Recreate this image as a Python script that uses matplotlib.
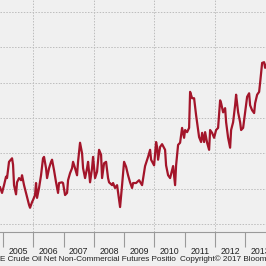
import matplotlib
matplotlib.use("Agg")
import matplotlib.pyplot as plt
import numpy as np

# net positions, thousand contracts
dates = [2004.901, 2004.967, 2005.033, 2005.099, 2005.132, 2005.198, 2005.298, 2005.331,
         2005.364, 2005.430, 2005.463, 2005.529, 2005.595, 2005.628, 2005.694, 2005.760,
         2005.793, 2005.860, 2005.893, 2005.959, 2005.992, 2006.058, 2006.091, 2006.124,
         2006.190, 2006.256, 2006.322, 2006.355, 2006.421, 2006.455, 2006.521, 2006.587,
         2006.620, 2006.686, 2006.752, 2006.818, 2006.851, 2006.950, 2006.983, 2007.050,
         2007.116, 2007.149, 2007.215, 2007.281, 2007.314, 2007.380, 2007.446, 2007.479,
         2007.545, 2007.612, 2007.645, 2007.711, 2007.777, 2007.810, 2007.876, 2007.942,
         2007.975, 2008.041, 2008.107, 2008.174, 2008.240, 2008.273, 2008.339, 2008.405,
         2008.471, 2008.504, 2008.603, 2008.636, 2008.702, 2008.769, 2008.802, 2008.868,
         2008.934, 2009.000, 2009.066, 2009.132, 2009.198, 2009.264, 2009.298, 2009.397,
         2009.496, 2009.595, 2009.694, 2009.793, 2009.860, 2009.893, 2009.992, 2010.058,
         2010.091, 2010.124, 2010.190, 2010.256, 2010.355, 2010.388, 2010.455, 2010.521,
         2010.620, 2010.686, 2010.719, 2010.785, 2010.851, 2010.917, 2010.983, 2011.017,
         2011.083, 2011.149, 2011.182, 2011.248, 2011.314, 2011.380, 2011.413, 2011.479,
         2011.545, 2011.579, 2011.645, 2011.678, 2011.744, 2011.810, 2011.843, 2011.909,
         2011.975, 2012.041, 2012.107, 2012.174, 2012.207, 2012.273, 2012.339, 2012.372,
         2012.438, 2012.504, 2012.537, 2012.603, 2012.669, 2012.702, 2012.769, 2012.835,
         2012.868, 2012.934, 2013.000, 2013.066, 2013.132, 2013.165, 2013.231, 2013.298,
         2013.331, 2013.397, 2013.463, 2013.496, 2013.562, 2013.628, 2013.661, 2013.694]
values = [52, 44, 55, 67, 65, 88, 93, 84,
          55, 42, 59, 65, 62, 69, 55, 44,
          38, 27, 23, 31, 34, 41, 58, 37,
          51, 69, 93, 95, 79, 65, 79, 88,
          91, 76, 59, 44, 58, 59, 58, 41,
          44, 62, 72, 79, 88, 79, 69, 88,
          115, 100, 79, 65, 79, 88, 59, 79,
          95, 65, 74, 105, 98, 65, 86, 88,
          65, 59, 55, 58, 51, 55, 45, 24,
          55, 88, 81, 69, 59, 51, 58, 58,
          62, 55, 82, 95, 105, 91, 83, 116,
          109, 91, 109, 113, 105, 83, 69, 65,
          82, 55, 83, 112, 115, 136, 122, 133,
          130, 136, 187, 178, 178, 154, 144, 123,
          116, 129, 116, 130, 115, 105, 133, 129,
          122, 133, 136, 175, 171, 158, 164, 144,
          122, 108, 133, 144, 168, 183, 158, 144,
          133, 136, 158, 180, 185, 168, 161, 157,
          171, 183, 187, 200, 228, 229, 221, 225]

years = list(range(2005, 2014))
grid_years = [2006, 2008, 2010, 2012]
y_grid = [0, 50, 100, 150, 200, 250, 300]

bg = "#f0f0f0"
red = "#a3152a"
gridc = "#bdbdbd"
axc = "#9a9a9a"
txt = "#222222"

fig = plt.figure(figsize=(2.66, 2.66), dpi=100, facecolor=bg)
ax = fig.add_axes([0, 34 / 266, 1, 232 / 266])
ax.set_facecolor(bg)

ax.plot(dates, values, color=red, linewidth=1.6, solid_joinstyle="round")

ax.set_xlim(2004.90, 2013.69)
ax.set_ylim(-11.3, 317)

for v in y_grid:
    ax.axhline(v, color=gridc, linewidth=0.7, linestyle=(0, (1.5, 1.5)), zorder=0)
for g in grid_years:
    ax.axvline(g, color=gridc, linewidth=0.7, linestyle=(0, (1.5, 1.5)), zorder=0)

for s in ["top", "right", "left"]:
    ax.spines[s].set_visible(False)
ax.spines["bottom"].set_color(axc)
ax.spines["bottom"].set_linewidth(0.8)

ax.set_yticks([])
ax.set_xticks(years)
ax.set_xticklabels([])
ax.tick_params(axis="x", which="major", length=11, color=axc, width=0.8)
ax.set_xticks([y + 0.5 for y in years], minor=True)
ax.set_xticklabels([str(y) for y in years], minor=True, fontsize=6.3,
                   family="Liberation Sans", color=txt)
ax.tick_params(axis="x", which="minor", length=0, pad=10.5)

fig.text(0 / 266, 6.5 / 266, "E Crude Oil Net Non-Commercial Futures Positio",
         fontsize=5.9, family="Liberation Sans", color=txt, va="center", ha="left")
fig.text(180 / 266, 6.5 / 266, "Copyright\u00a9 2017 Bloomberg",
         fontsize=5.9, family="Liberation Sans", color=txt, va="center", ha="left")

fig.savefig("out.png", dpi=100, facecolor=bg)
